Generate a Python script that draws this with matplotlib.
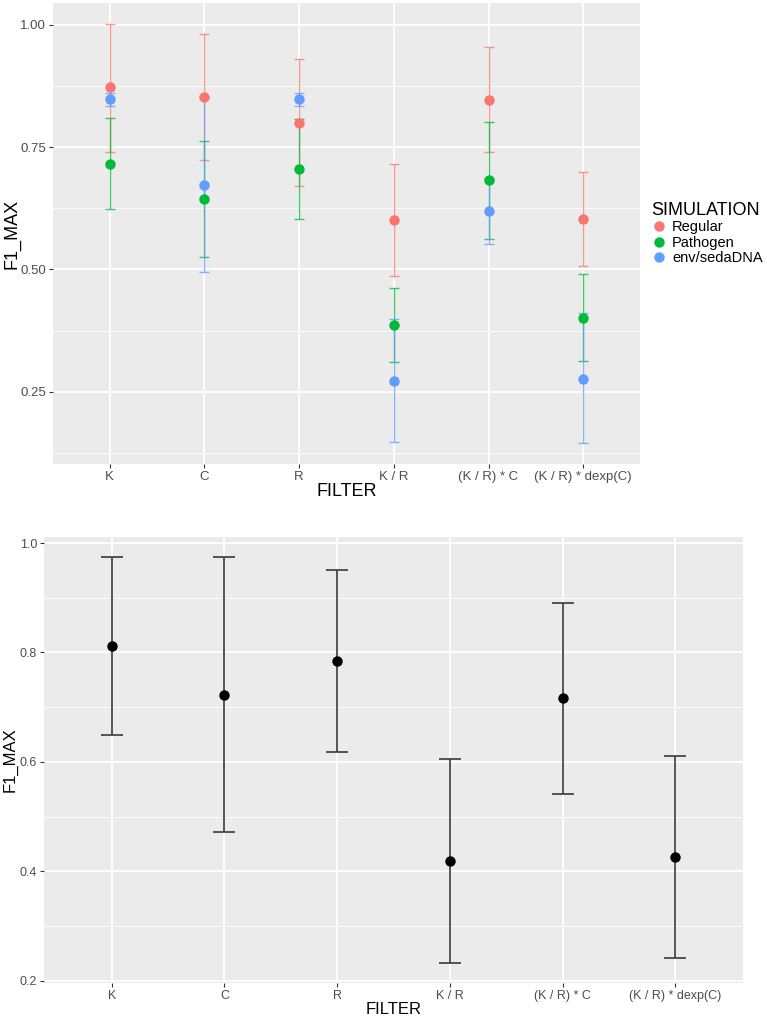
import numpy as np
import matplotlib
matplotlib.use("Agg")
import matplotlib.pyplot as plt
from matplotlib.lines import Line2D

plt.rcParams["font.family"] = ["Liberation Sans", "DejaVu Sans"]

# --- data ---
filters = ["K", "C", "R", "K / R", "(K / R) * C", "(K / R) * dexp(C)"]
simulations = ["Regular", "Pathogen", "env/sedaDNA"]
sim_colors = ["#F8766D", "#00BA38", "#619CFF"]

regular_mean = [0.873, 0.852, 0.800, 0.601, 0.847, 0.604]
regular_low = [0.740, 0.724, 0.670, 0.487, 0.740, 0.508]
regular_high = [1.003, 0.981, 0.931, 0.715, 0.955, 0.700]

pathogen_mean = [0.716, 0.644, 0.706, 0.386, 0.682, 0.400]
pathogen_low = [0.623, 0.526, 0.604, 0.310, 0.562, 0.312]
pathogen_high = [0.809, 0.762, 0.808, 0.463, 0.802, 0.490]

env_mean = [0.848, 0.673, 0.848, 0.272, 0.619, 0.276]
env_low = [0.835, 0.494, 0.834, 0.146, 0.552, 0.145]
env_high = [0.860, 0.853, 0.860, 0.399, 0.687, 0.411]

overall_mean = [0.812, 0.723, 0.785, 0.419, 0.716, 0.426]
overall_low = [0.650, 0.472, 0.618, 0.233, 0.541, 0.241]
overall_high = [0.974, 0.974, 0.951, 0.606, 0.891, 0.611]

BG = "#EBEBEB"
TICK_COL = "#4D4D4D"


def gg_axes(ax, ylim, major, minor):
    ax.set_facecolor(BG)
    for s in ax.spines.values():
        s.set_visible(False)
    x = np.arange(1, len(filters) + 1)
    ax.set_xlim(0.4, len(filters) + 0.6)
    ax.set_ylim(*ylim)
    ax.set_xticks(x)
    ax.set_yticks(major)
    ax.set_yticks(minor, minor=True)
    ax.grid(True, which="major", color="white", lw=1.3, zorder=0)
    ax.grid(True, which="minor", axis="y", color="white", lw=0.6, zorder=0)
    ax.set_axisbelow(True)
    ax.tick_params(which="major", length=3, width=0.8, color="#333333",
                   labelcolor=TICK_COL, pad=2)
    ax.tick_params(which="minor", length=0)
    return x


fig = plt.figure(figsize=(7.67, 10.18), dpi=100)
W, H = 767, 1018

# top panel: per simulation
ax1 = fig.add_axes([53 / W, (H - 464) / H, (640 - 53) / W, (464 - 3) / H])
x = gg_axes(ax1, (0.102, 1.045), [0.25, 0.50, 0.75, 1.00],
            [0.125, 0.375, 0.625, 0.875])
ax1.set_yticklabels(["0.25", "0.50", "0.75", "1.00"], fontsize=9.5)
ax1.set_xticklabels(filters, fontsize=9.5)

series = [
    (regular_mean, regular_low, regular_high),
    (pathogen_mean, pathogen_low, pathogen_high),
    (env_mean, env_low, env_high),
]
for (m, lo, hi), col in zip(series, sim_colors):
    m = np.array(m)
    yerr = [m - np.array(lo), np.array(hi) - m]
    ax1.errorbar(x, m, yerr=yerr, fmt="none", ecolor=col, elinewidth=1.0,
                 capsize=3.5, capthick=1.0, alpha=0.75, zorder=2)
for (m, lo, hi), col in zip(series, sim_colors):
    ax1.plot(x, m, "o", color=col, ms=7.5, mew=0, zorder=3)

ax1.set_xlabel("FILTER", fontsize=13)
ax1.xaxis.label.set_va("center")
ax1.xaxis.set_label_coords(0.5, -27 / 461)
ax1.set_ylabel("F1_MAX", fontsize=13)
ax1.yaxis.label.set_va("center")
ax1.yaxis.set_label_coords(-41 / 587, 0.5)

handles = [Line2D([], [], marker="o", ls="none", color=c, ms=7.5, mew=0)
           for c in sim_colors]
leg = ax1.legend(handles, simulations, title="SIMULATION", loc="center left",
                 bbox_to_anchor=(1.005, 0.5), frameon=False, fontsize=10.5,
                 title_fontsize=13, handletextpad=0.4, labelspacing=0.1,
                 borderaxespad=0.2, handlelength=1.0)
leg._legend_box.align = "left"

# bottom panel: all simulations pooled
ax2 = fig.add_axes([44 / W, (H - 983) / H, (743 - 44) / W, (983 - 537) / H])
x = gg_axes(ax2, (0.196, 1.011), [0.2, 0.4, 0.6, 0.8, 1.0],
            [0.3, 0.5, 0.7, 0.9])
ax2.set_yticklabels(["0.2", "0.4", "0.6", "0.8", "1.0"], fontsize=9)
ax2.set_xticklabels(filters, fontsize=9)

m = np.array(overall_mean)
yerr = [m - np.array(overall_low), np.array(overall_high) - m]
ax2.errorbar(x, m, yerr=yerr, fmt="none", ecolor="#3a3a3a", elinewidth=1.2,
             capsize=8, capthick=1.2, zorder=2)
ax2.plot(x, m, "o", color="black", ms=7.5, mew=0, zorder=3)
ax2.set_xlabel("FILTER", fontsize=12)
ax2.xaxis.label.set_va("center")
ax2.xaxis.set_label_coords(0.5, -27 / 446)
ax2.set_ylabel("F1_MAX", fontsize=12)
ax2.yaxis.label.set_va("center")
ax2.yaxis.set_label_coords(-34 / 699, 0.5)

fig.savefig("out.png", dpi=100)
